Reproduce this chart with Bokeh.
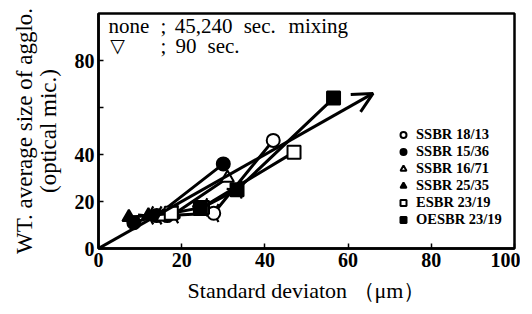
from bokeh.plotting import figure
from bokeh.models import (Legend, LegendItem, Label, Arrow, OpenHead,
                          FixedTicker, Range1d)
from bokeh.embed import file_html
from bokeh.resources import INLINE

# ---- data ----
series_names = ["SSBR 18/13", "SSBR 15/36", "SSBR 16/71",
                "SSBR 25/35", "ESBR 23/19", "OESBR 23/19"]
mixing_times = [45, 90, 240]          # sec; the 90 s point is flagged
ssbr_18_13_x = [16.5, 27.7, 42.0]
ssbr_18_13_y = [14.0, 15.0, 46.0]
ssbr_15_36_x = [8.5, 14.0, 30.0]
ssbr_15_36_y = [11.0, 14.0, 36.0]
ssbr_16_71_x = [15.5, 18.0, 31.0]
ssbr_16_71_y = [13.5, 14.5, 30.0]
ssbr_25_35_x = [7.3, 12.0, 18.0]
ssbr_25_35_y = [13.3, 14.0, 15.0]
esbr_23_19_x = [17.5, 25.0, 47.0]
esbr_23_19_y = [15.0, 17.5, 41.0]
oesbr_23_19_x = [24.5, 33.3, 56.5]
oesbr_23_19_y = [17.0, 25.0, 64.0]
trend_start = [0, 0]
trend_end = [66, 66]
x_ticks = [0, 20, 40, 60, 80, 100]
y_ticks = [0, 20, 40, 60, 80]
y_tick_labels = {0: "0", 20: "20", 40: "40", 60: "", 80: "80"}

series_x = [ssbr_18_13_x, ssbr_15_36_x, ssbr_16_71_x,
            ssbr_25_35_x, esbr_23_19_x, oesbr_23_19_x]
series_y = [ssbr_18_13_y, ssbr_15_36_y, ssbr_16_71_y,
            ssbr_25_35_y, esbr_23_19_y, oesbr_23_19_y]
markers = ["circle", "circle", "triangle", "triangle", "square", "square"]
fills = ["white", "black", "white", "black", "white", "black"]

SERIF = "Liberation Serif"

p = figure(width=520, height=306, output_backend="svg", toolbar_location=None,
           x_range=Range1d(0, 100), y_range=Range1d(0, 100),
           min_border_left=98, min_border_right=6,
           min_border_top=13, min_border_bottom=58)
p.xgrid.visible = False
p.ygrid.visible = False
p.outline_line_color = "black"
p.outline_line_width = 2.5
p.background_fill_color = "white"
p.border_fill_color = "white"

for ax in (p.xaxis[0], p.yaxis[0]):
    ax.axis_line_width = 2.5
    ax.axis_line_color = "black"
    ax.major_tick_in = 5
    ax.major_tick_out = 0
    ax.major_tick_line_width = 1.5
    ax.minor_tick_line_color = None
    ax.major_label_text_font = SERIF
    ax.major_label_text_font_size = "20px"
    ax.major_label_text_font_style = "bold"
    ax.major_label_text_color = "black"
    ax.axis_label_text_font = SERIF
    ax.axis_label_text_font_style = "normal"
    ax.axis_label_text_color = "black"

p.xaxis.ticker = FixedTicker(ticks=x_ticks)
p.yaxis.ticker = FixedTicker(ticks=y_ticks)
p.yaxis.major_label_overrides = y_tick_labels
p.xaxis.major_label_standoff = 4
p.yaxis.major_label_standoff = 4
p.xaxis.axis_label = "Standard deviaton \uff08\u03bcm\uff09"
p.xaxis.axis_label_text_font_size = "22px"
p.xaxis.axis_label_standoff = 8
p.yaxis.axis_label = "WT. average size of agglo.\n(optical mic.)"
p.yaxis.axis_label_text_font_size = "23px"
p.yaxis.axis_label_text_line_height = 0.95
p.yaxis.axis_label_standoff = 11

# trend arrow
p.add_layout(Arrow(end=OpenHead(size=20, line_width=3, line_color="black"),
                   x_start=trend_start[0], y_start=trend_start[1],
                   x_end=trend_end[0], y_end=trend_end[1],
                   line_width=3, line_color="black"))

items = []
for name, xs, ys, m, f in zip(series_names, series_x, series_y, markers, fills):
    p.line(xs, ys, line_width=3, line_color="black")
    # flag on the 90 s point
    p.scatter([xs[1]], [ys[1]], marker="y", size=20, line_width=2.2,
              line_color="black", angle=0.5)
    r = p.scatter(xs, ys, marker=m, size=13, fill_color=f,
                  line_color="black", line_width=2)
    items.append(LegendItem(label=name, renderers=[r]))

legend = Legend(items=items, location=(297, 20),
                label_text_font=SERIF, label_text_font_style="bold",
                label_text_font_size="14.5px", label_text_color="black",
                glyph_width=16, glyph_height=15, label_height=15,
                spacing=0, padding=0, margin=0, label_standoff=5,
                border_line_color=None, background_fill_alpha=0)
p.add_layout(legend)

# note in upper left corner
for txt, x, y in [("none", 2.4, 94.6), (";", 14.9, 94.6),
                  ("45,240", 18.3, 94.6), ("sec.", 34.9, 94.6),
                  ("mixing", 45.7, 94.6),
                  (";", 14.9, 86.3), ("90", 18.5, 86.3), ("sec.", 26.2, 86.3)]:
    p.add_layout(Label(x=x, y=y, text=txt, text_font=SERIF,
                       text_font_size="21px", text_baseline="middle",
                       text_color="black"))
p.add_layout(Label(x=2.8, y=86.8, text="\u25bd", text_font="DejaVu Sans",
                   text_font_size="19px", text_font_style="bold",
                   text_baseline="middle", text_color="black"))

open("out.html", "w").write(file_html(p, INLINE))
